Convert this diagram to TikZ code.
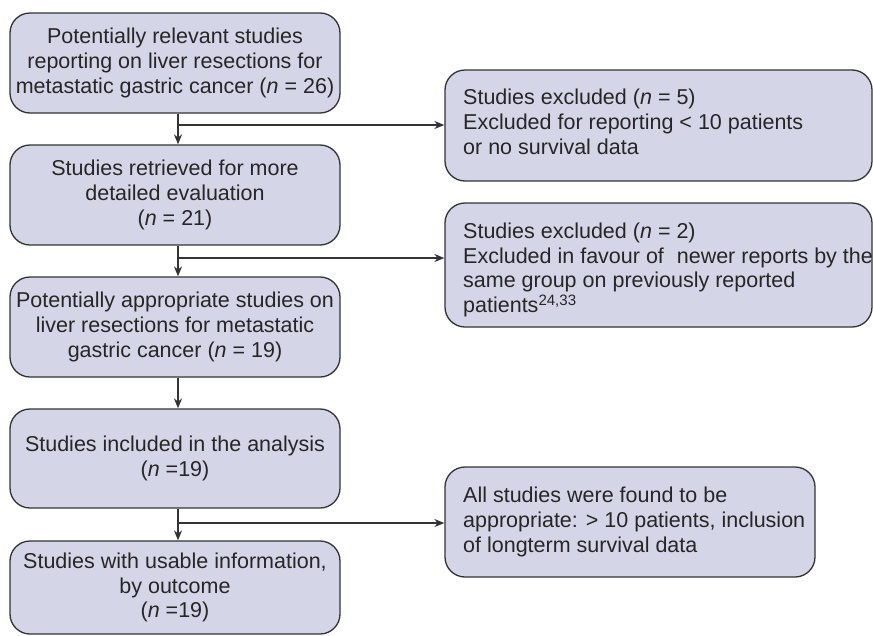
\documentclass[tikz,border=0pt]{standalone}
\usepackage{fontspec}
\setmainfont{Liberation Sans}
\usetikzlibrary{arrows.meta}
\definecolor{boxfill}{HTML}{D5D5E8}
\definecolor{boxline}{HTML}{333333}
\begin{document}
\begin{tikzpicture}[x=1pt,y=-1pt,
  box/.style={draw=boxline,fill=boxfill,line width=1.3pt,rounded corners=20pt,inner sep=0pt},
  lbox/.style={box,minimum width=330pt},
  txt/.style={font=\fontsize{21.5}{24.7}\selectfont,text=black!85,inner sep=0pt},
  conn/.style={draw=boxline,line width=1.3pt},
  arr/.style={conn,-{Stealth[length=10pt,width=8pt]}}]
\useasboundingbox (0,0) rectangle (873,635);
% left column boxes
\node[lbox,minimum height=100pt] (b1) at (175,63) {};
\node[txt,align=center] (t1) at (b1.center) {Potentially relevant studies\\reporting on liver resections for\\metastatic gastric cancer (\textit{n} = 26)};
\node[lbox,minimum height=100pt] (b2) at (175,195) {};
\node[txt,align=center] (t2) at (b2.center) {Studies retrieved for more\\detailed evaluation\\(\textit{n} = 21)};
\node[lbox,minimum height=100pt] (b3) at (175,327) {};
\node[txt,align=center] (t3) at (b3.center) {Potentially appropriate studies on\\liver resections for metastatic\\gastric cancer (\textit{n} = 19)};
\node[lbox,minimum height=99pt] (b4) at (175,458.5) {};
\node[txt,align=center] (t4) at (b4.center) {Studies included in the analysis\\(\textit{n} =19)};
\node[lbox,minimum height=93pt] (b5) at (175,587.5) {};
\node[txt,align=center] (t5) at (b5.center) {Studies with usable information,\\by outcome\\(\textit{n} =19)};
% right boxes
\node[box,minimum width=427pt,minimum height=111pt] (r1) at (658.5,125.5) {};
\node[txt,align=left,anchor=west] (s1) at (463,122) {Studies excluded (\textit{n} = 5)\\Excluded for reporting < 10 patients\\or no survival data};
\node[box,minimum width=427pt,minimum height=124pt] (r2) at (658.5,265) {};
\node[txt,align=left,anchor=west] (s2) at (463,270) {Studies excluded (\textit{n} = 2)\\Excluded in favour of\hspace{0.6em}newer reports by the\\same group on previously reported\\patients\textsuperscript{24,33}};
\node[box,minimum width=370pt,minimum height=110pt] (r3) at (630,522) {};
\node[txt,align=left,anchor=west] (s3) at (463,522) {All studies were found to be\\appropriate: > 10 patients, inclusion\\of longterm survival data};
% junctions
\coordinate (j1) at (178,125);
\coordinate (j2) at (178,258);
\coordinate (j3) at (178,523);
% connectors
\draw[arr] (b1.south -| j1) -- (b2.north -| j1);
\draw[arr] (j1) -- (j1 -| r1.west);
\draw[arr] (b2.south -| j2) -- (b3.north -| j2);
\draw[arr] (j2) -- (j2 -| r2.west);
\draw[arr] (b3.south -| j2) -- (b4.north -| j2);
\draw[arr] (b4.south -| j3) -- (b5.north -| j3);
\draw[arr] (j3) -- (j3 -| r3.west);
\end{tikzpicture}
\end{document}
